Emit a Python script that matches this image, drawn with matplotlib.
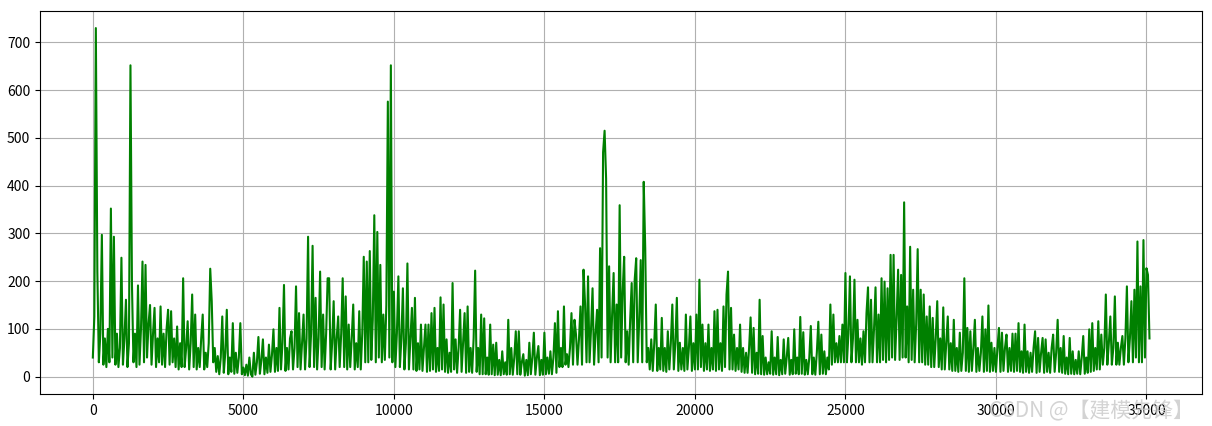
import numpy as np
import matplotlib
matplotlib.use("Agg")
import matplotlib.pyplot as plt

plt.rcParams['font.family'] = ['Noto Sans CJK SC', 'DejaVu Sans']
plt.rcParams['axes.unicode_minus'] = False

# sample spacing of the values below (index units)
step = 50

# values, one row per 1000 index units
values = [
    40, 126, 730, 220, 30, 90, 297, 25, 80, 20, 100, 30, 352, 40, 293, 25, 90, 20, 60, 249,                  # 0
    25, 80, 161, 20, 70, 652, 192, 30, 90, 20, 191, 25, 100, 241, 30, 234, 40, 110, 150, 25,                 # 1000
    90, 144, 20, 80, 30, 147, 25, 90, 20, 100, 140, 25, 137, 30, 80, 20, 105, 15, 70, 20,                    # 2000
    206, 20, 60, 116, 15, 70, 172, 20, 130, 15, 60, 20, 80, 130, 15, 50, 20, 70, 226, 158,                   # 3000
    30, 60, 10, 43, 5, 40, 126, 8, 50, 140, 5, 40, 10, 112, 6, 50, 8, 40, 112, 5,                            # 4000
    19, 3, 25, 2, 40, 5, 0, 50, 4, 30, 83, 6, 35, 78, 5, 40, 8, 67, 10, 45,                                  # 5000
    99, 10, 60, 12, 144, 15, 70, 192, 12, 60, 15, 80, 95, 15, 60, 189, 20, 133, 15, 70,                      # 6000
    130, 15, 80, 293, 20, 90, 274, 20, 165, 15, 80, 220, 20, 130, 15, 90, 206, 206, 15, 70,                  # 7000
    158, 15, 80, 126, 20, 90, 206, 20, 168, 15, 109, 20, 80, 151, 15, 70, 20, 137, 15, 90,                   # 8000
    251, 30, 241, 30, 263, 35, 120, 338, 30, 303, 40, 234, 30, 130, 35, 150, 576, 40, 652, 30,               # 9000
    178, 20, 90, 210, 20, 80, 185, 15, 70, 237, 15, 80, 144, 15, 165, 12, 70, 15, 109, 12,                   # 10000
    60, 109, 10, 109, 12, 133, 15, 144, 10, 60, 12, 166, 15, 151, 10, 78, 8, 50, 10, 196,                    # 11000
    15, 78, 8, 60, 140, 10, 70, 133, 8, 147, 10, 60, 8, 81, 222, 10, 60, 5, 130, 5,                          # 12000
    122, 5, 40, 4, 109, 5, 67, 3, 71, 4, 35, 3, 53, 5, 30, 4, 119, 5, 60, 4,                                 # 13000
    40, 95, 5, 95, 4, 30, 47, 2, 35, 3, 71, 5, 40, 92, 4, 40, 64, 3, 35, 4,                                  # 14000
    92, 5, 40, 6, 53, 5, 40, 112, 8, 137, 20, 60, 20, 147, 25, 47, 20, 60, 133, 25,                          # 15000
    119, 88, 25, 80, 147, 25, 224, 154, 30, 210, 30, 100, 185, 25, 90, 140, 30, 269, 40, 470,                # 16000
    515, 415, 40, 231, 30, 130, 217, 30, 151, 30, 359, 40, 178, 251, 30, 95, 25, 120, 196, 30,               # 17000
    203, 248, 30, 120, 244, 30, 408, 269, 30, 60, 15, 78, 12, 70, 151, 12, 60, 15, 123, 12,                  # 18000
    60, 10, 95, 15, 70, 151, 15, 70, 165, 12, 71, 15, 60, 12, 130, 15, 60, 126, 12, 70,                      # 19000
    15, 130, 15, 203, 20, 109, 12, 70, 15, 109, 12, 60, 15, 137, 12, 140, 15, 70, 12, 147,                   # 20000
    20, 172, 220, 15, 144, 15, 88, 12, 60, 15, 109, 10, 60, 8, 50, 8, 60, 124, 8, 102,                       # 21000
    5, 50, 6, 161, 5, 85, 4, 40, 5, 30, 6, 95, 4, 40, 5, 83, 3, 35, 5, 78,                                   # 22000
    6, 40, 81, 4, 35, 5, 99, 6, 40, 5, 125, 6, 93, 4, 35, 5, 40, 106, 5, 40,                                 # 23000
    4, 50, 115, 5, 88, 6, 53, 5, 40, 15, 151, 25, 130, 30, 70, 30, 85, 30, 109, 30,                          # 24000
    217, 30, 90, 210, 30, 80, 203, 30, 119, 30, 80, 25, 95, 30, 133, 187, 30, 161, 30, 100,                  # 25000
    187, 30, 130, 30, 206, 35, 199, 30, 185, 35, 255, 40, 255, 35, 120, 224, 35, 213, 40, 365,               # 26000
    40, 147, 30, 272, 35, 182, 30, 110, 267, 30, 182, 30, 172, 25, 126, 25, 147, 20, 123, 20,                # 27000
    80, 158, 20, 80, 15, 145, 15, 70, 126, 15, 70, 12, 119, 12, 60, 10, 92, 12, 50, 206,                     # 28000
    12, 102, 10, 95, 12, 60, 119, 10, 60, 12, 50, 126, 10, 99, 12, 149, 10, 71, 12, 60,                      # 29000
    10, 60, 102, 10, 92, 12, 60, 88, 10, 60, 12, 90, 10, 90, 12, 112, 10, 53, 8, 109,                        # 30000
    10, 53, 8, 50, 10, 60, 95, 8, 81, 10, 50, 81, 8, 78, 10, 50, 8, 60, 88, 10,                              # 31000
    50, 119, 10, 60, 8, 85, 6, 40, 5, 81, 6, 53, 5, 35, 6, 53, 5, 40, 85, 6,                                 # 32000
    40, 8, 99, 10, 112, 12, 60, 15, 116, 15, 88, 25, 60, 172, 25, 70, 126, 25, 60, 168,                      # 33000
    25, 71, 25, 60, 85, 25, 80, 189, 30, 80, 158, 30, 182, 40, 283, 30, 189, 30, 286, 40,                    # 34000
    227, 213, 80,                                                                                            # 35000
]

index = np.arange(len(values)) * step

fig = plt.figure(figsize=(12.12, 4.26), dpi=100)
ax = fig.add_axes([0.033, 0.075, 0.959, 0.9])

ax.plot(index, values, color='green', linewidth=1.5)
ax.grid(True)
ax.tick_params(labelsize=10)

fig.text(0.985, 0.035, 'CSDN @【建模先锋】', ha='right', va='center',
         fontsize=15, color='#c8c8c8', alpha=0.8)

fig.savefig('out.png', dpi=100)
